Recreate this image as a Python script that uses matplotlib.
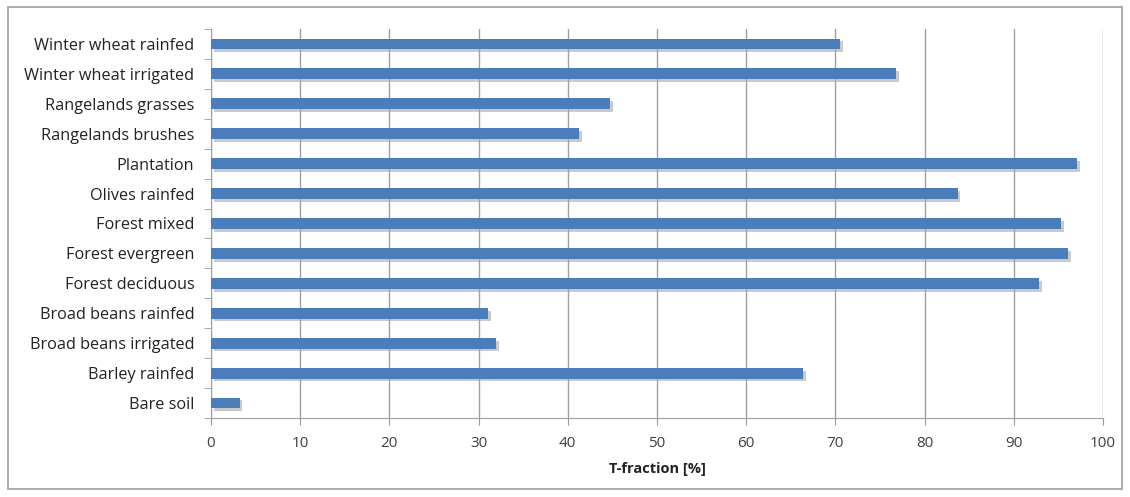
import matplotlib
matplotlib.use("Agg")
import matplotlib.pyplot as plt
import matplotlib.patheffects as pe
from matplotlib.patches import Rectangle

categories = ["Winter wheat rainfed", "Winter wheat irrigated", "Rangelands grasses",
              "Rangelands brushes", "Plantation", "Olives rainfed", "Forest mixed",
              "Forest evergreen", "Forest deciduous", "Broad beans rainfed",
              "Broad beans irrigated", "Barley rainfed", "Bare soil"]
values = [70.5, 76.8, 44.7, 41.3, 97.1, 83.7, 95.3, 96.1, 92.8, 31.1, 32.0, 66.4, 3.2]
xticks = [0, 10, 20, 30, 40, 50, 60, 70, 80, 90, 100]

plt.rcParams['font.family'] = ['Open Sans', 'DejaVu Sans']

fig = plt.figure(figsize=(11.30, 4.97), dpi=100)
ax = fig.add_axes([211/1130, 1-418/497, (1103-211)/1130, (418-29)/497])

n = len(categories)
ypos = list(range(n))[::-1]
bars = ax.barh(ypos, values, height=0.36, color='#4a7ebb', zorder=3)
for b in bars:
    b.set_path_effects([pe.SimplePatchShadow(offset=(2, -2), shadow_rgbFace='#a8a8a8', alpha=0.6),
                        pe.Normal()])

ax.set_xlim(0, 100)
ax.set_ylim(-0.5, n - 0.5)
ax.set_xticks(xticks)
ax.set_xticklabels([str(t) for t in xticks], fontsize=11, color='#404040')
ax.set_yticks(ypos)
ax.set_yticklabels(categories, fontsize=11.7, color='#222222')
ax.tick_params(axis='y', length=0, pad=12)
ax.tick_params(axis='x', length=5, color='#999999', pad=8)
# minor ticks between categories on y axis
ax.set_yticks([y + 0.5 for y in range(-1, n)], minor=True)
ax.tick_params(axis='y', which='minor', length=5, color='#999999')

ax.grid(axis='x', color='#a0a0a0', linewidth=1.0, zorder=0)
for s in ['top', 'right']:
    ax.spines[s].set_visible(False)
for s in ['left', 'bottom']:
    ax.spines[s].set_color('#a0a0a0')
ax.set_xlabel("T-fraction [%]", fontsize=10.5, fontweight='bold', color='#222222', labelpad=8)

fig.patches.append(Rectangle((8/1130, 8/497), 1114/1130, 482/497, transform=fig.transFigure,
                             fill=False, edgecolor='#a0a0a0', linewidth=1.2))

fig.savefig("out.png", dpi=100)
